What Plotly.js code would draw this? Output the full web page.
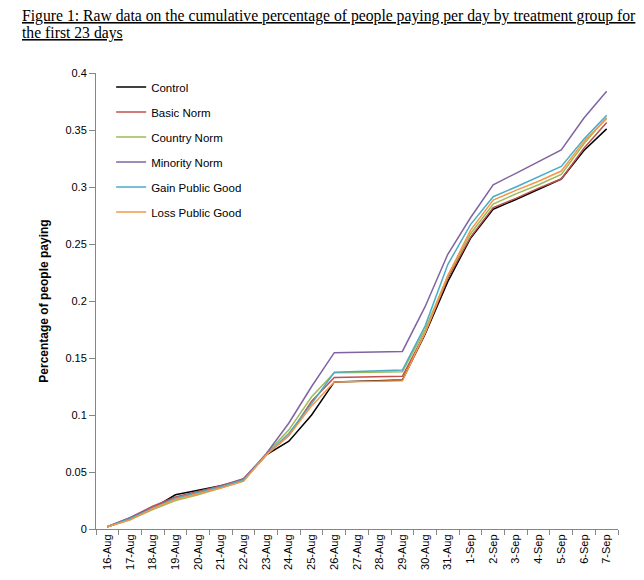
<!DOCTYPE html>
<html>
<head>
<meta charset="utf-8">
<script src="https://cdn.plot.ly/plotly-3.0.1.min.js"></script>
<style>html,body{margin:0;padding:0;background:#fff;}#chart{width:644px;height:580px;}</style>
</head>
<body>
<div id="chart"></div>
<script>
const dates = ["16-Aug","17-Aug","18-Aug","19-Aug","20-Aug","21-Aug","22-Aug","23-Aug","24-Aug","25-Aug","26-Aug","27-Aug","28-Aug","29-Aug","30-Aug","31-Aug","1-Sep","2-Sep","3-Sep","4-Sep","5-Sep","6-Sep","7-Sep"];
const control  = [0.002,0.009,0.018,0.030,0.034,0.038,0.043,0.065,0.077,0.100,0.129,0.1296,0.1302,0.1307,0.171,0.217,0.255,0.2805,0.289,0.298,0.307,0.332,0.351];
const basicNorm = [0.002,0.010,0.020,0.028,0.033,0.038,0.044,0.065,0.082,0.112,0.133,0.1333,0.1337,0.134,0.172,0.220,0.256,0.282,0.290,0.299,0.307,0.334,0.3565];
const countryNorm = [0.002,0.008,0.017,0.025,0.030,0.036,0.042,0.066,0.087,0.116,0.137,0.1373,0.1377,0.138,0.175,0.222,0.259,0.285,0.294,0.302,0.311,0.338,0.361];
const minorityNorm = [0.002,0.010,0.019,0.027,0.032,0.037,0.044,0.066,0.093,0.125,0.1547,0.155,0.1554,0.1558,0.195,0.241,0.273,0.302,0.312,0.322,0.3325,0.3605,0.384];
const gainPublicGood = [0.002,0.009,0.018,0.027,0.032,0.037,0.043,0.065,0.084,0.110,0.1374,0.138,0.1388,0.1395,0.178,0.232,0.267,0.2915,0.300,0.309,0.318,0.342,0.363];
const lossPublicGood = [0.002,0.008,0.018,0.026,0.031,0.036,0.042,0.065,0.082,0.108,0.129,0.1293,0.1297,0.130,0.172,0.222,0.262,0.2886,0.297,0.305,0.314,0.340,0.360];
const yTicks = [0,0.05,0.1,0.15,0.2,0.25,0.3,0.35,0.4];
const yTickText = ["0","0.05","0.1","0.15","0.2","0.25","0.3","0.35","0.4"];
const titleLines = ["Figure 1: Raw data on the cumulative percentage of people paying per day by treatment group for", "the first 23 days"];

const series = [
  {name:"Control", y:control, color:"#000000"},
  {name:"Basic Norm", y:basicNorm, color:"#c0504d"},
  {name:"Country Norm", y:countryNorm, color:"#9bbb59"},
  {name:"Minority Norm", y:minorityNorm, color:"#8064a2"},
  {name:"Gain Public Good", y:gainPublicGood, color:"#4bacc6"},
  {name:"Loss Public Good", y:lossPublicGood, color:"#f79646"}
];

const traces = series.map((s, i) => ({
  type:"scatter", mode:"lines", name:s.name, x:dates, y:s.y,
  legendgroup:"g"+i,
  line:{color:s.color, width:1.5}
}));

const titleFont = {family:"Liberation Serif, Times New Roman, serif", size:15.7, color:"#000"};
const annotations = titleLines.map((t, i) => ({
  xref:"paper", yref:"paper",
  x:(20-96)/522, y:(529-(16+17*i))/456,
  xanchor:"left", yanchor:"middle",
  text:"<u>"+t+"</u>", showarrow:false,
  font:titleFont
}));

const layout = {
  width:644, height:580,
  paper_bgcolor:"#fff", plot_bgcolor:"#fff",
  margin:{l:96, r:26, t:73, b:51},
  annotations:annotations,
  showlegend:true,
  legend:{
    x:0.029, y:1.001, xanchor:"left", yanchor:"top",
    bgcolor:"rgba(0,0,0,0)", borderwidth:0,
    tracegroupgap:6,
    font:{family:"Liberation Sans, Arial, sans-serif", size:11.5, color:"#000"}
  },
  xaxis:{
    type:"category",
    range:[-0.5, 22.5],
    tickangle:-90,
    tickson:"boundaries",
    ticks:"outside", ticklen:5, tickcolor:"#868686",
    showline:true, linecolor:"#868686", linewidth:1,
    showgrid:false, zeroline:false,
    tickfont:{family:"Liberation Sans, Arial, sans-serif", size:11, color:"#000"}
  },
  yaxis:{
    range:[0,0.4],
    tickvals:yTicks, ticktext:yTickText,
    ticks:"outside", ticklen:6, tickcolor:"#868686",
    showline:true, linecolor:"#868686", linewidth:1,
    showgrid:false, zeroline:false,
    tickfont:{family:"Liberation Sans, Arial, sans-serif", size:11, color:"#000"},
    title:{text:"<b>Percentage of people paying</b>", standoff:14,
      font:{family:"Liberation Sans, Arial, sans-serif", size:12, color:"#000"}}
  }
};

Plotly.newPlot("chart", traces, layout, {displayModeBar:false, staticPlot:true});
</script>
</body>
</html>
